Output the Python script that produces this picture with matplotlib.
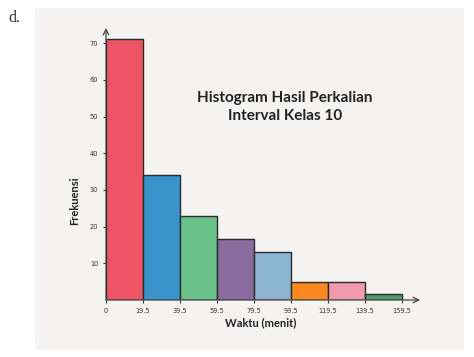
import matplotlib
matplotlib.use("Agg")
import matplotlib.pyplot as plt
from matplotlib.patches import Rectangle

# data
edges = ["0", "19.5", "39.5", "59.5", "79.5", "99.5", "119.5", "139.5", "159.5"]
freq = [71, 34, 23, 16.5, 13, 5, 5, 1.5]
yticks = [10, 20, 30, 40, 50, 60, 70]
colors = ["#ef5366", "#3793c9", "#6ac28a", "#8a6b9d",
          "#8db5cf", "#f8891e", "#f19aac", "#4c9a66"]

fig = plt.figure(figsize=(4.74, 3.57), dpi=100)
fig.patch.set_facecolor("white")

# grey card behind the chart
card = Rectangle((35 / 474, 7 / 357), 429 / 474, 342 / 357,
                 transform=fig.transFigure, facecolor="#f4f3f2",
                 edgecolor="none", zorder=-5)
fig.add_artist(card)
fig.text(8 / 474, 1 - 18 / 357, "d.", family="Liberation Serif", fontsize=11.5,
         color="#333333", va="center", ha="left")

ax = fig.add_axes([106 / 474, 57 / 357, 314 / 474, 272 / 357])
ax.set_zorder(2)
ax.set_facecolor("none")

x = list(range(len(freq)))
ax.bar(x, freq, width=1.0, align="edge", color=colors,
       edgecolor="#2b2b2b", linewidth=1.0, zorder=3)

ax.set_xlim(0, 314 / 37)
ax.set_ylim(0, 272 / 3.67)

for s in ax.spines.values():
    s.set_visible(False)

# axes with open arrow heads
ax.annotate("", xy=(314 / 37, 0), xytext=(0, 0),
            arrowprops=dict(arrowstyle="->", color="#444444", lw=0.9,
                            shrinkA=0, shrinkB=0), zorder=4)
ax.annotate("", xy=(0, 272 / 3.67), xytext=(0, 0),
            arrowprops=dict(arrowstyle="->", color="#444444", lw=0.9,
                            shrinkA=0, shrinkB=0), zorder=4)

ax.set_xticks(range(len(edges)))
ax.set_xticklabels(edges)
ax.set_yticks(yticks)
ax.set_yticklabels([str(v) for v in yticks])
ax.tick_params(axis="both", labelsize=4.8, length=2.5, width=0.8,
               color="#333333", labelcolor="#333333", pad=3)

ax.set_xlabel("Waktu (menit)", family="Lato", fontweight="bold",
              fontsize=8, color="#222222")
ax.set_ylabel("Frekuensi", family="Lato", fontweight="bold",
              fontsize=8, color="#222222")
ax.xaxis.set_label_coords(155 / 314, -17 / 272)
ax.yaxis.set_label_coords(-26 / 314, 99 / 272)

fig.text(285 / 474, 1 - 107 / 357,
         "Histogram Hasil Perkalian\nInterval Kelas 10",
         family="Lato", fontweight="bold", fontsize=11, color="#222222",
         ha="center", va="center", linespacing=1.35)

fig.savefig("out.png", dpi=100, facecolor="white")
